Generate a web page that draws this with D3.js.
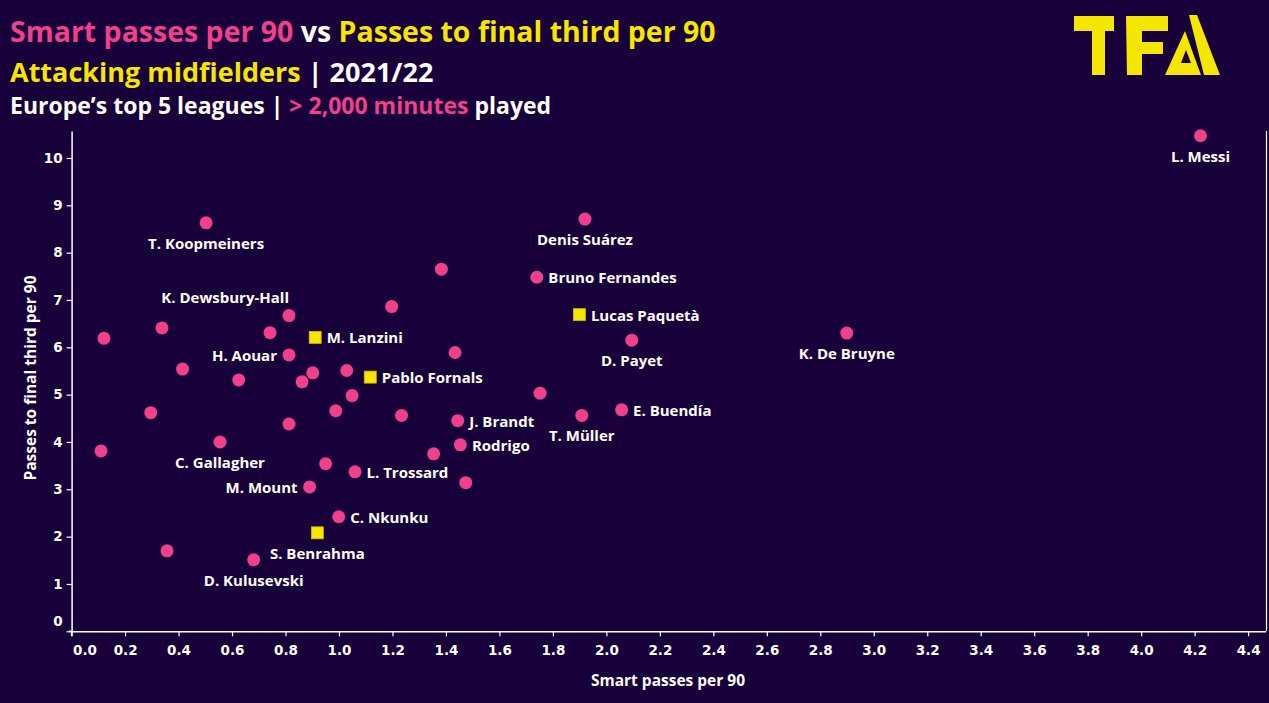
<!DOCTYPE html>
<html><head><meta charset="utf-8">
<script src="https://cdn.jsdelivr.net/npm/d3@7"></script>
<style>html,body{margin:0;padding:0;background:#18003a;} svg{display:block}</style>
</head><body>
<svg id="c" width="1269" height="703"></svg>
<script>
// ---------- DATA ----------
const playerLabels = [
  "L. Messi","T. Koopmeiners","Denis Suárez","","Bruno Fernandes","Lucas Paquetà","D. Payet","K. De Bruyne",
  "K. Dewsbury-Hall","M. Lanzini","H. Aouar","Pablo Fornals","J. Brandt","Rodrigo","L. Trossard","C. Gallagher",
  "M. Mount","C. Nkunku","S. Benrahma","D. Kulusevski","T. Müller","E. Buendía",
  "","","","","","","","","","","","","","","","","","","","",""
];
const smartPassesPer90 = [
  4.222,0.503,1.920,1.383,1.740,1.899,2.095,2.899,
  0.813,0.911,0.813,1.117,1.444,1.454,1.060,0.555,
  0.890,0.999,0.919,0.681,1.908,2.057,
  0.121,0.338,0.742,1.197,1.434,0.415,0.625,0.902,0.862,1.029,1.049,0.296,0.988,1.234,0.813,0.110,1.354,0.950,1.474,1.752,0.357
];
const finalThirdPer90 = [
  10.47,8.63,8.71,7.65,7.48,6.69,6.15,6.30,
  6.67,6.21,5.84,5.37,4.45,3.94,3.37,4.00,
  3.05,2.42,2.08,1.51,4.56,4.68,
  6.19,6.41,6.31,6.86,5.89,5.54,5.31,5.46,5.27,5.51,4.98,4.62,4.66,4.56,4.38,3.81,3.75,3.54,3.14,5.03,1.70
];
const highlightedPlayers = ["Lucas Paquetà","M. Lanzini","Pablo Fornals","S. Benrahma"];
const labelPlacement = {
  "L. Messi":"below","T. Koopmeiners":"below","Denis Suárez":"below","D. Payet":"below","K. De Bruyne":"below",
  "C. Gallagher":"below","S. Benrahma":"below","D. Kulusevski":"below","T. Müller":"below",
  "Bruno Fernandes":"right","Lucas Paquetà":"right","M. Lanzini":"right","Pablo Fornals":"right","J. Brandt":"right",
  "Rodrigo":"right","L. Trossard":"right","C. Nkunku":"right","E. Buendía":"right",
  "H. Aouar":"left","M. Mount":"left","K. Dewsbury-Hall":"aboveLeft"
};
const xTickValues = [0,0.2,0.4,0.6,0.8,1.0,1.2,1.4,1.6,1.8,2.0,2.2,2.4,2.6,2.8,3.0,3.2,3.4,3.6,3.8,4.0,4.2,4.4];
const yTickValues = [0,1,2,3,4,5,6,7,8,9,10];
const xAxisTitle = "Smart passes per 90";
const yAxisTitle = "Passes to final third per 90";

// ---------- STYLE ----------
const BG = "#18003a", PINK = "#f0408c", YELLOW = "#f5e600", WHITE = "#ffffff";
const svg = d3.select("#c");
svg.append("rect").attr("width",1269).attr("height",703).attr("fill",BG);

const x = d3.scaleLinear().domain([0, 4.465]).range([71.6, 1265.5]);
const y = d3.scaleLinear().domain([0, 10.57]).range([631.3, 131]);

// Titles
const tFont = "'Open Sans', 'Noto Sans', sans-serif";
const t1 = svg.append("text").attr("x",10).attr("y",42).attr("font-family",tFont).attr("font-weight",700).attr("font-size",28.5);
t1.append("tspan").attr("fill",PINK).text("Smart passes per 90");
t1.append("tspan").attr("fill",WHITE).text(" vs ");
t1.append("tspan").attr("fill",YELLOW).text("Passes to final third per 90");
const t2 = svg.append("text").attr("x",10).attr("y",82).attr("font-family",tFont).attr("font-weight",700).attr("font-size",27);
t2.append("tspan").attr("fill",YELLOW).text("Attacking midfielders");
t2.append("tspan").attr("fill",WHITE).text(" | 2021/22");
const t3 = svg.append("text").attr("x",10).attr("y",114).attr("font-family",tFont).attr("font-weight",700).attr("font-size",23);
t3.append("tspan").attr("fill",WHITE).text("Europe’s top 5 leagues | ");
t3.append("tspan").attr("fill",PINK).text("> 2,000 minutes");
t3.append("tspan").attr("fill",WHITE).text(" played");

// Logo TFA
const logo = svg.append("g").attr("fill",YELLOW).attr("fill-rule","evenodd");
logo.append("path").attr("d","M1074,16 H1114 V31 H1105 V75 H1092 V31 H1074 Z");
logo.append("path").attr("d","M1126,16 H1168 V31 H1142 V42 H1163 V54 H1142 V75 H1127 Z");
logo.append("path").attr("d","M1189,15 H1197 L1220,75 H1204 Z");
logo.append("path").attr("d","M1165,75 L1185,31 L1201,75 Z M1181,63 L1186,50 L1191,63 Z");

// Axes
const tickFont = "'DejaVu Sans', Verdana, sans-serif";
const gx = svg.append("g").attr("transform",`translate(0,${y(0)})`)
  .call(d3.axisBottom(x).tickValues(xTickValues).tickFormat(d3.format(".1f")).tickSize(5).tickPadding(9).tickSizeOuter(0));
const gy = svg.append("g").attr("transform",`translate(${x(0)},0)`)
  .call(d3.axisLeft(y).tickValues(yTickValues).tickFormat(d3.format("d")).tickSize(5).tickPadding(4).tickSizeOuter(0));
[gx,gy].forEach(g=>{
  g.select(".domain").attr("stroke",WHITE).attr("stroke-width",1.5);
  g.selectAll(".tick line").attr("stroke",WHITE).attr("stroke-width",1.2);
  g.selectAll(".tick text").attr("fill",WHITE).attr("font-family",tickFont).attr("font-weight",700).attr("font-size",13.5);
});
gx.selectAll(".tick text").filter(d=>d===0).attr("text-anchor","start").attr("dx",1);
gy.selectAll(".tick text").filter(d=>d===0).attr("dy","-0.4em");
svg.append("line").attr("x1",x(0)-3).attr("x2",x(0)).attr("y1",y(0)).attr("y2",y(0)).attr("stroke",WHITE).attr("stroke-width",1.5);
svg.append("line").attr("x1",x(0)).attr("x2",x(0)).attr("y1",y(0)).attr("y2",y(0)+5).attr("stroke",WHITE).attr("stroke-width",1.5);
svg.append("line").attr("x1",1266.5).attr("x2",1266.5).attr("y1",y(10.57)).attr("y2",y(0)).attr("stroke",WHITE).attr("stroke-width",1.2);

// Axis titles
const labFont = "'Open Sans', 'Noto Sans', sans-serif";
svg.append("text").attr("x",668).attr("y",686).attr("text-anchor","middle").attr("fill",WHITE)
  .attr("font-family",labFont).attr("font-weight",700).attr("font-size",15.5).text(xAxisTitle);
svg.append("text").attr("transform",`translate(36,${378}) rotate(-90)`).attr("text-anchor","middle").attr("fill",WHITE)
  .attr("font-family",labFont).attr("font-weight",700).attr("font-size",15.5).text(yAxisTitle);

// Points
const data = smartPassesPer90.map((v,i)=>({x:v,y:finalThirdPer90[i],label:playerLabels[i]}));
const circles = data.filter(d=>!highlightedPlayers.includes(d.label));
const squares = data.filter(d=>highlightedPlayers.includes(d.label));
svg.append("g").selectAll("circle").data(circles).join("circle")
  .attr("cx",d=>x(d.x)).attr("cy",d=>y(d.y)).attr("r",6.5).attr("fill",PINK);
svg.append("g").selectAll("rect").data(squares).join("rect")
  .attr("x",d=>x(d.x)-6).attr("y",d=>y(d.y)-6).attr("width",12).attr("height",12)
  .attr("fill",YELLOW).attr("stroke","#c9bb00").attr("stroke-width",0.8);

// Labels
const off = {
  below:{dx:0,dy:20,anchor:"middle"},
  right:{dx:11.5,dy:0,anchor:"start"},
  left:{dx:-12,dy:0,anchor:"end"},
  aboveLeft:{dx:0,dy:-19,anchor:"end"}
};
svg.append("g").selectAll("text").data(data.filter(d=>d.label)).join("text")
  .each(function(d){
    const o = off[labelPlacement[d.label]||"right"];
    d3.select(this).attr("x",x(d.x)+o.dx).attr("y",y(d.y)+o.dy).attr("text-anchor",o.anchor);
  })
  .attr("dominant-baseline","central")
  .attr("fill",WHITE).attr("font-family",labFont).attr("font-weight",700).attr("font-size",15)
  .text(d=>d.label);
</script>
</body></html>
